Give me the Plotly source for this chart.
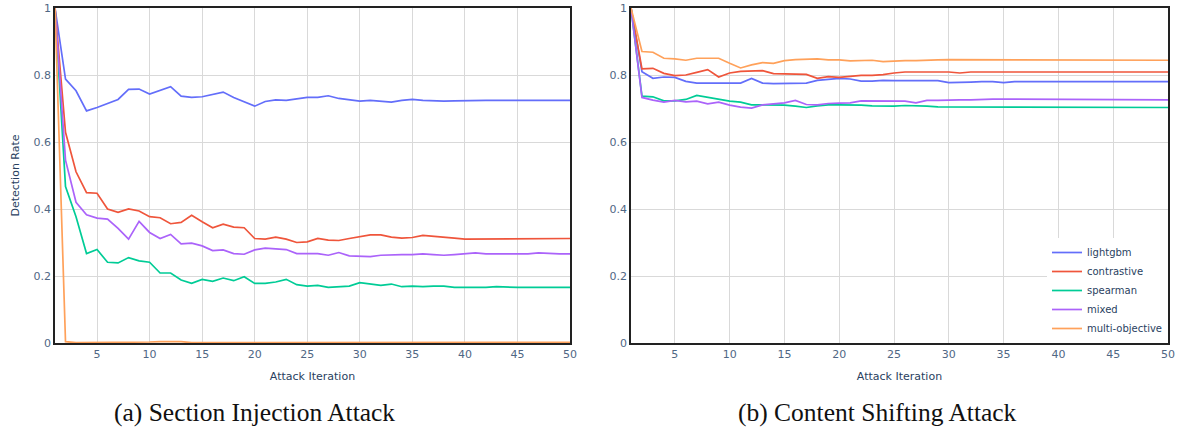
import plotly.graph_objects as go
from plotly.subplots import make_subplots

iterations = list(range(1, 51))

# (a) Section Injection Attack
sec_lightgbm = [1.0, 0.788, 0.753, 0.693, 0.703, 0.714, 0.727, 0.757, 0.758, 0.743,
                0.755, 0.765, 0.737, 0.733, 0.735, 0.743, 0.749, 0.733, 0.720, 0.707,
                0.721, 0.726, 0.724, 0.728, 0.733, 0.733, 0.738, 0.730, 0.726, 0.722,
                0.724, 0.722, 0.719, 0.724, 0.727, 0.724, 0.722, 0.722, 0.723, 0.724,
                0.724, 0.724, 0.724, 0.724, 0.724, 0.724, 0.724, 0.724, 0.724, 0.724]
sec_contrastive = [1.0, 0.629, 0.511, 0.449, 0.447, 0.400, 0.390, 0.400, 0.394, 0.377,
                   0.374, 0.356, 0.360, 0.381, 0.362, 0.344, 0.355, 0.346, 0.344, 0.312,
                   0.310, 0.316, 0.310, 0.300, 0.302, 0.312, 0.307, 0.306, 0.312, 0.317,
                   0.323, 0.323, 0.316, 0.313, 0.315, 0.321, 0.319, 0.317, 0.313, 0.310,
                   0.310, 0.310, 0.310, 0.310, 0.310, 0.312, 0.312, 0.312, 0.312, 0.312]
sec_spearman = [1.0, 0.467, 0.377, 0.267, 0.279, 0.241, 0.239, 0.255, 0.245, 0.241,
                0.209, 0.209, 0.188, 0.178, 0.190, 0.184, 0.194, 0.186, 0.198, 0.178,
                0.178, 0.182, 0.190, 0.174, 0.170, 0.172, 0.166, 0.168, 0.170, 0.180,
                0.176, 0.172, 0.176, 0.168, 0.170, 0.168, 0.170, 0.170, 0.166, 0.166,
                0.164, 0.166, 0.168, 0.166, 0.166, 0.166, 0.166, 0.166, 0.166, 0.166]
sec_mixed = [1.0, 0.546, 0.420, 0.383, 0.373, 0.370, 0.342, 0.310, 0.363, 0.330,
             0.312, 0.324, 0.296, 0.298, 0.290, 0.276, 0.278, 0.267, 0.265, 0.278,
             0.283, 0.281, 0.279, 0.267, 0.267, 0.267, 0.262, 0.270, 0.260, 0.260,
             0.258, 0.262, 0.264, 0.264, 0.264, 0.266, 0.264, 0.262, 0.264, 0.266,
             0.269, 0.266, 0.266, 0.266, 0.266, 0.266, 0.269, 0.267, 0.266, 0.266]
sec_multi = [1.0, 0.004, 0.001, 0.001, 0.001, 0.001, 0.001, 0.001, 0.001, 0.003,
             0.004, 0.004, 0.004, 0.001, 0.001, 0.001, 0.001, 0.001, 0.001, 0.001,
             0.001, 0.002, 0.002, 0.002, 0.002, 0.002, 0.002, 0.002, 0.002, 0.002,
             0.002, 0.002, 0.002, 0.002, 0.002, 0.002, 0.002, 0.002, 0.002, 0.002,
             0.002, 0.002, 0.002, 0.002, 0.002, 0.002, 0.002, 0.002, 0.002, 0.002]

# (b) Content Shifting Attack
con_lightgbm = [1.0, 0.810, 0.790, 0.794, 0.793, 0.781, 0.776, 0.776, 0.776, 0.774,
                0.776, 0.790, 0.776, 0.774, 0.774, 0.776, 0.776, 0.784, 0.786, 0.790,
                0.788, 0.782, 0.782, 0.784, 0.783, 0.783, 0.783, 0.783, 0.783, 0.777,
                0.777, 0.779, 0.780, 0.780, 0.777, 0.780, 0.780, 0.780, 0.780, 0.780,
                0.780, 0.780, 0.780, 0.780, 0.780, 0.780, 0.780, 0.780, 0.780, 0.780]
con_contrastive = [1.0, 0.818, 0.820, 0.805, 0.798, 0.800, 0.808, 0.816, 0.794, 0.806,
                   0.811, 0.811, 0.813, 0.804, 0.803, 0.804, 0.802, 0.790, 0.795, 0.793,
                   0.796, 0.799, 0.799, 0.801, 0.806, 0.809, 0.809, 0.809, 0.809, 0.809,
                   0.806, 0.809, 0.809, 0.809, 0.809, 0.809, 0.809, 0.809, 0.809, 0.809,
                   0.809, 0.809, 0.809, 0.809, 0.809, 0.809, 0.809, 0.809, 0.809, 0.809]
con_spearman = [1.0, 0.737, 0.735, 0.723, 0.723, 0.727, 0.739, 0.733, 0.727, 0.722,
                0.719, 0.711, 0.711, 0.711, 0.710, 0.707, 0.703, 0.708, 0.711, 0.711,
                0.711, 0.710, 0.708, 0.707, 0.707, 0.709, 0.709, 0.707, 0.705, 0.705,
                0.705, 0.705, 0.705, 0.703, 0.703, 0.703, 0.703, 0.703, 0.703, 0.703,
                0.703, 0.703, 0.703, 0.703, 0.703, 0.703, 0.703, 0.703, 0.703, 0.703]
con_mixed = [1.0, 0.733, 0.725, 0.719, 0.724, 0.720, 0.722, 0.714, 0.719, 0.710,
             0.704, 0.701, 0.711, 0.714, 0.717, 0.724, 0.712, 0.711, 0.715, 0.716,
             0.717, 0.723, 0.723, 0.721, 0.722, 0.722, 0.717, 0.724, 0.724, 0.726,
             0.726, 0.726, 0.728, 0.728, 0.728, 0.728, 0.728, 0.726, 0.726, 0.726,
             0.726, 0.726, 0.726, 0.726, 0.726, 0.726, 0.726, 0.726, 0.726, 0.726]
con_multi = [1.0, 0.870, 0.868, 0.850, 0.848, 0.844, 0.850, 0.850, 0.850, 0.835,
             0.821, 0.830, 0.837, 0.835, 0.843, 0.846, 0.846, 0.848, 0.845, 0.845,
             0.842, 0.842, 0.844, 0.840, 0.842, 0.843, 0.843, 0.843, 0.845, 0.846,
             0.846, 0.846, 0.846, 0.846, 0.844, 0.844, 0.844, 0.844, 0.844, 0.844,
             0.844, 0.844, 0.844, 0.844, 0.844, 0.844, 0.844, 0.844, 0.844, 0.844]

series_names = ["lightgbm", "contrastive", "spearman", "mixed", "multi-objective"]
colors = ["#636efa", "#EF553B", "#00cc96", "#ab63fa", "#FFA15A"]
captions = ["(a) Section Injection Attack", "(b) Content Shifting Attack"]

left_data = [sec_lightgbm, sec_contrastive, sec_spearman, sec_mixed, sec_multi]
right_data = [con_lightgbm, con_contrastive, con_spearman, con_mixed, con_multi]

FONT = "DejaVu Sans"
W, H = 1177, 434
ML, MR, MT, MB = 55, 9, 8, 91
pw = W - ML - MR

fig = make_subplots(rows=1, cols=2, horizontal_spacing=0.0)

for i, (name, col) in enumerate(zip(series_names, colors)):
    fig.add_trace(go.Scatter(x=iterations, y=left_data[i], mode="lines", name=name,
                             line=dict(color=col, width=1.7), showlegend=False),
                  row=1, col=1)
    fig.add_trace(go.Scatter(x=iterations, y=right_data[i], mode="lines", name=name,
                             line=dict(color=col, width=1.7), showlegend=True),
                  row=1, col=2)

axis_common = dict(showline=True, linecolor="#222222", linewidth=1.5, mirror=True,
                   showgrid=True, gridcolor="#d9d9d9", gridwidth=1, zeroline=False,
                   automargin=False, ticks="",
                   tickfont=dict(family=FONT, size=11, color="#506784"))

fig.update_xaxes(range=[1, 50], tickvals=list(range(5, 51, 5)),
                 title=dict(text="Attack Iteration", font=dict(family=FONT, size=11, color="#2a3f5f"), standoff=12),
                 **axis_common)
fig.update_yaxes(range=[0, 1], tickvals=[0, 0.2, 0.4, 0.6, 0.8, 1],
                 ticktext=["0", "0.2", "0.4", "0.6", "0.8", "1"], **axis_common)
fig.update_yaxes(title=dict(text="Detection Rate", font=dict(family=FONT, size=11, color="#2a3f5f"), standoff=12),
                 row=1, col=1)

fig.update_layout(
    xaxis=dict(domain=[0, (570 - ML) / pw]),
    xaxis2=dict(domain=[(631 - ML) / pw, 1]),
)

cap_x = [(254 - ML) / pw, (877 - ML) / pw]
cap_y = (343 - 412) / (H - MT - MB)
for cx, text in zip(cap_x, captions):
    fig.add_annotation(x=cx, y=cap_y, xref="paper", yref="paper", text=text,
                       showarrow=False, xanchor="center", yanchor="middle",
                       font=dict(family="Liberation Serif", size=25.5, color="#111111"))

fig.update_layout(
    width=W, height=H,
    margin=dict(l=ML, r=MR, t=MT, b=MB, autoexpand=False),
    paper_bgcolor="white", plot_bgcolor="white",
    font=dict(family=FONT, size=11, color="#2a3f5f"),
    legend=dict(x=1, y=0, xanchor="right", yanchor="bottom",
                bgcolor="white", borderwidth=0,
                font=dict(family=FONT, size=10, color="#2a3f5f"),
                tracegroupgap=0, itemwidth=30),
)

fig.write_html("out.html",
               config={"displayModeBar": False},
               post_script="document.body.style.margin='0';document.body.style.overflow='hidden';")
